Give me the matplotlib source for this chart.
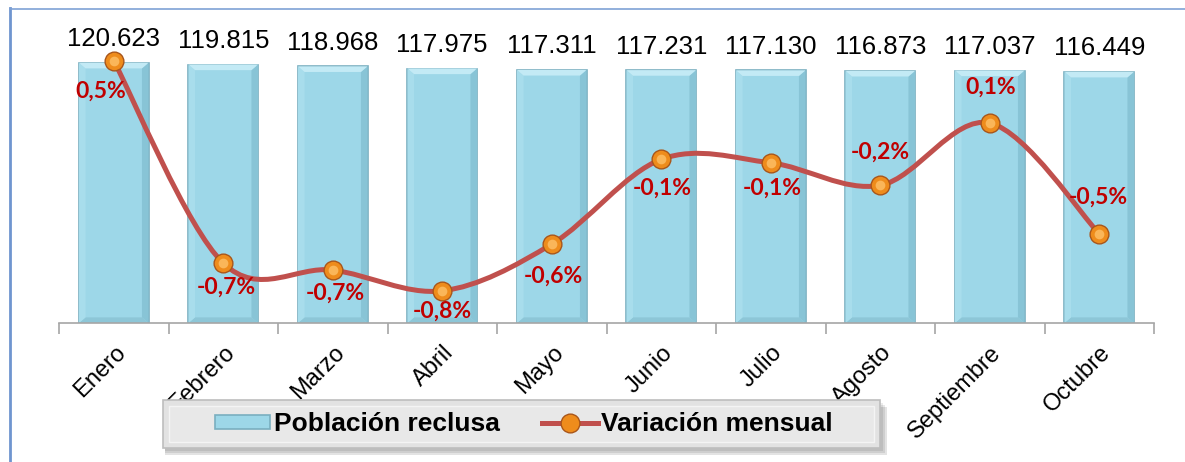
import matplotlib
matplotlib.use("Agg")
import matplotlib.pyplot as plt
from matplotlib.path import Path
from matplotlib.patches import PathPatch, Rectangle, Patch, Polygon
from matplotlib.lines import Line2D
import numpy as np

months = ["Enero", "Febrero", "Marzo", "Abril", "Mayo", "Junio", "Julio",
          "Agosto", "Septiembre", "Octubre"]
poblacion = [120623, 119815, 118968, 117975, 117311, 117231, 117130, 116873,
             117037, 116449]
poblacion_labels = ["120.623", "119.815", "118.968", "117.975", "117.311",
                    "117.231", "117.130", "116.873", "117.037", "116.449"]
variacion = [0.50, -0.67, -0.71, -0.83, -0.56, -0.07, -0.09, -0.22, 0.14, -0.50]
variacion_labels = ["0,5%", "-0,7%", "-0,7%", "-0,8%", "-0,6%", "-0,1%",
                    "-0,1%", "-0,2%", "0,1%", "-0,5%"]

# label offsets (points) for the percentage labels
pct_offsets = [(-9, -22), (2, -17), (2, -17), (0, -15), (1, -23), (1, -21),
               (1, -18), (0, 24), (1, 26), (-1, 26)]

W, H = 1185, 462
fig = plt.figure(figsize=(W / 100, H / 100), dpi=100)
fig.patch.set_facecolor("white")

# outer frame (left and top)
fig.add_artist(Line2D([9.5 / W, 9.5 / W], [0, 1 - 8 / H], transform=fig.transFigure,
                      color="#6F95CF", lw=2.0))
fig.add_artist(Line2D([9.5 / W, 1], [1 - 8.5 / H, 1 - 8.5 / H], transform=fig.transFigure,
                      color="#7FA2D6", lw=1.2))

ax_left, ax_right = 59, 1154
ax_bottom, ax_top = 323, 21
ax = fig.add_axes([ax_left / W, 1 - ax_bottom / H, (ax_right - ax_left) / W,
                   (ax_bottom - ax_top) / H])
ax.set_facecolor("none")
x = np.arange(len(months))
ymax = 140000
ax.set_xlim(-0.5, len(months) - 0.5)
ax.set_ylim(0, ymax)

# bars with a light bevel
bars = ax.bar(x, poblacion, width=0.635, color="#9DD7E8", edgecolor="#7AAFC0",
              linewidth=1.2, zorder=2)
bev_x = 0.06   # bevel width in data units (x)
bev_y = 2600   # bevel height in data units (y)
for b in bars:
    bx, bw, bh = b.get_x(), b.get_width(), b.get_height()
    ax.add_patch(Polygon([(bx, bh), (bx + bw, bh), (bx + bw - bev_x, bh - bev_y),
                          (bx + bev_x, bh - bev_y)], closed=True,
                         facecolor="#C3EAF5", edgecolor="none", zorder=2.1))
    ax.add_patch(Polygon([(bx + bw, bh), (bx + bw, 0), (bx + bw - bev_x, bev_y),
                          (bx + bw - bev_x, bh - bev_y)], closed=True,
                         facecolor="#88C4D6", edgecolor="none", zorder=2.05))
    ax.add_patch(Polygon([(bx, 0), (bx + bw, 0), (bx + bw - bev_x, bev_y),
                          (bx + bev_x, bev_y)], closed=True,
                         facecolor="#8DC6D7", edgecolor="none", zorder=2.05))
    ax.add_patch(Polygon([(bx, bh), (bx, 0), (bx + bev_x, bev_y),
                          (bx + bev_x, bh - bev_y)], closed=True,
                         facecolor="#A8DDEC", edgecolor="none", zorder=2.05))

for xi, v, lab in zip(x, poblacion, poblacion_labels):
    ax.annotate(lab, (xi, v), xytext=(0, 17), textcoords="offset points",
                ha="center", va="center", fontsize=18.5, family="Liberation Sans",
                color="black", zorder=5)

for s in ["left", "right", "top"]:
    ax.spines[s].set_visible(False)
ax.spines["bottom"].set_color("#A6A6A6")
ax.spines["bottom"].set_linewidth(1.2)
ax.set_yticks([])
ax.set_xticks(np.arange(-0.5, len(months)))
ax.set_xticklabels([])
ax.tick_params(axis="x", direction="out", length=8, width=1.2, color="#A6A6A6")

for xi, m in zip(x, months):
    ax.annotate(m, (xi, 0), xycoords=("data", "axes fraction"),
                xytext=(6, -19), textcoords="offset points",
                ha="right", va="center", rotation=45, rotation_mode="anchor",
                fontsize=17, family="Liberation Sans", color="black", zorder=1)

# secondary axis with smoothed line
ax2 = ax.twinx()
ax2.set_ylim(-1.016, 0.73)
ax2.set_axis_off()
ax2.set_xlim(-0.5, len(months) - 0.5)

px = np.array(x, dtype=float)
py = np.array(variacion, dtype=float)
n = len(px)
verts = [(px[0], py[0])]
codes = [Path.MOVETO]
for i in range(n - 1):
    p0 = np.array([px[max(i - 1, 0)], py[max(i - 1, 0)]])
    p1 = np.array([px[i], py[i]])
    p2 = np.array([px[i + 1], py[i + 1]])
    p3 = np.array([px[min(i + 2, n - 1)], py[min(i + 2, n - 1)]])
    c1 = p1 + (p2 - p0) / 6.0
    c2 = p2 - (p3 - p1) / 6.0
    verts += [tuple(c1), tuple(c2), tuple(p2)]
    codes += [Path.CURVE4] * 3
curve = PathPatch(Path(verts, codes), facecolor="none", edgecolor="#C0504D",
                  linewidth=3.6, capstyle="round", joinstyle="round", zorder=3)
ax2.add_patch(curve)
ax2.plot(px, py, linestyle="none", marker="o", markersize=13.5,
         markerfacecolor="#EE8C1C", markeredgecolor="#A9561A", markeredgewidth=1.0,
         zorder=4)
ax2.plot(px, py, linestyle="none", marker="o", markersize=7,
         markerfacecolor="#FFC56E", markeredgecolor="none", alpha=0.75, zorder=4.1)

for xi, v, lab, off in zip(px, py, variacion_labels, pct_offsets):
    ax2.annotate(lab, (xi, v), xytext=off, textcoords="offset points",
                 ha="center", va="center", fontsize=16.5, fontweight="bold",
                 family="Lato", color="#C00000", zorder=6)

# legend frame with shadow
lx0, lx1, ly0, ly1 = 163, 880, 400, 448
for k, a in enumerate([0.08, 0.09, 0.11]):
    d = 3 + k * 2
    fig.add_artist(Rectangle(((lx0 + 2) / W, 1 - (ly1 + d) / H), (lx1 - lx0 + d - 2) / W,
                             (ly1 - ly0) / H, transform=fig.transFigure,
                             facecolor="black", edgecolor="none", alpha=a, zorder=8))
fig.add_artist(Rectangle((lx0 / W, 1 - ly1 / H), (lx1 - lx0) / W, (ly1 - ly0) / H,
                         transform=fig.transFigure, facecolor="#E2E2E2",
                         edgecolor="#BDBDBD", linewidth=1.2, zorder=9))
fig.add_artist(Rectangle(((lx0 + 6) / W, 1 - (ly1 - 6) / H), (lx1 - lx0 - 12) / W,
                         (ly1 - ly0 - 12) / H, transform=fig.transFigure,
                         facecolor="#E8E8E8", edgecolor="#F4F4F4", linewidth=1.0,
                         zorder=9.1))

handles = [Patch(facecolor="#9DD7E8", edgecolor="#7AAFC0", linewidth=1.2),
           Line2D([0], [0], color="#C0504D", lw=3.6, marker="o", markersize=13.5,
                  markerfacecolor="#EE8C1C", markeredgecolor="#A9561A")]
leg = fig.legend(handles, ["Población reclusa", "Variación mensual"],
                 loc="center", bbox_to_anchor=((lx0 + lx1) / 2 / W + 0.002,
                                               1 - (ly0 + ly1) / 2 / H),
                 ncol=2, frameon=False,
                 prop={"family": "Liberation Sans", "weight": "bold", "size": 19},
                 handlelength=2.1, handleheight=0.45, handletextpad=0.15,
                 columnspacing=1.6)
leg.set_zorder(10)

fig.savefig("out.png", dpi=100)
